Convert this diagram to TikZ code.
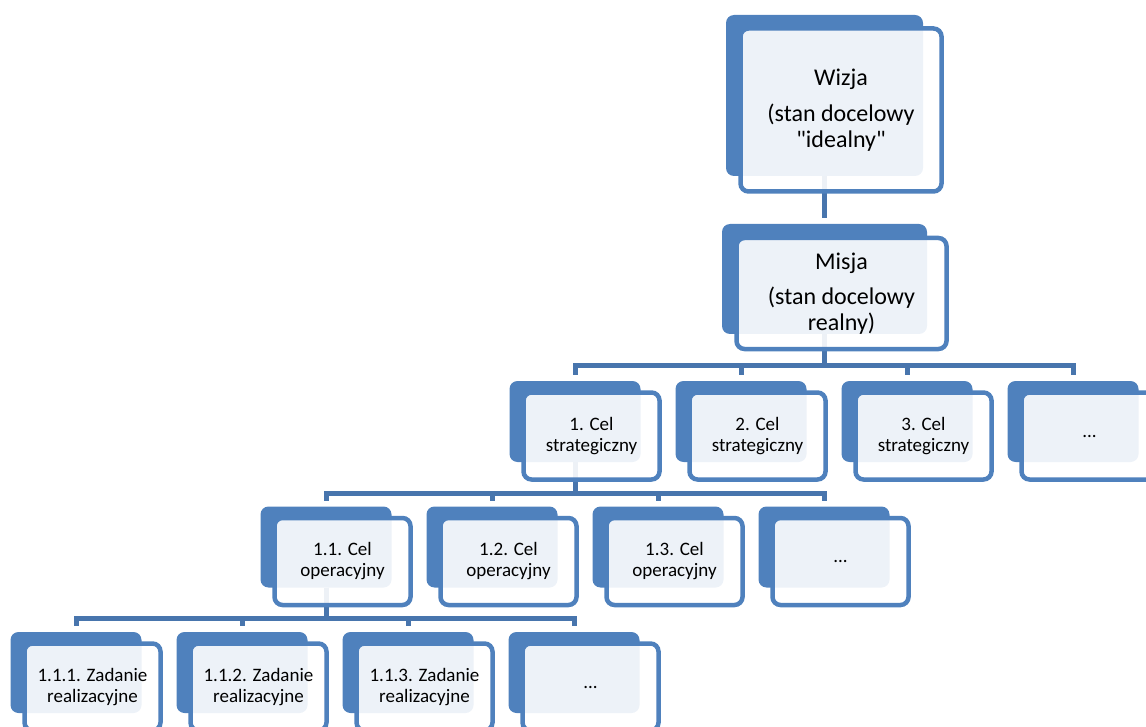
\documentclass[tikz,border=0pt]{standalone}
\usepackage{fontspec}
\setmainfont{Carlito}[Ligatures=TeXOff]
\usetikzlibrary{positioning}

\definecolor{cardblue}{RGB}{79,129,189}
\definecolor{linkblue}{RGB}{72,117,173}

\begin{document}
\begin{tikzpicture}[
    back/.style={rectangle, rounded corners=8pt, fill=cardblue, inner sep=0pt, outer sep=0pt, minimum width=131pt, minimum height=81pt},
    front/.style={rectangle, rounded corners=8pt, draw=cardblue, line width=4.5pt, fill=white, fill opacity=0.9, text opacity=1, align=center, inner sep=2pt, minimum width=136pt, minimum height=87pt, font=\fontsize{19}{21}\selectfont},
    bigfront/.style={front, font=\fontsize{24}{26}\selectfont},
    link/.style={draw=linkblue, line width=5pt, shorten >=6pt}
]
    \useasboundingbox (0,0) rectangle (1146pt,-727pt);

    % back cards
    \node[back, minimum width=197pt, minimum height=161pt] (wizja) at (824.5pt,-95.5pt) {};
    \node[back, minimum width=205pt, minimum height=110pt, below=48pt of wizja] (misja) {};
    \node[back, below=47pt of misja, xshift=-249.5pt] (cs1) {};
    \node[back, right=35pt of cs1] (cs2) {};
    \node[back, right=35pt of cs2] (cs3) {};
    \node[back, right=35pt of cs3] (cs4) {};
    \node[back, below=44.5pt of cs1, xshift=-249pt] (co1) {};
    \node[back, right=35pt of co1] (co2) {};
    \node[back, right=35pt of co2] (co3) {};
    \node[back, right=35pt of co3] (co4) {};
    \node[back, below=44.5pt of co1, xshift=-250pt] (zr1) {};
    \node[back, right=35pt of zr1] (zr2) {};
    \node[back, right=35pt of zr2] (zr3) {};
    \node[back, right=35pt of zr3] (zr4) {};

    % connectors
    \draw[link] (wizja.south) -- (misja.north);
    \foreach \c in {cs1,cs2,cs3,cs4}
        \draw[link] (misja.south) -- ++(0,-31pt) -| (\c.north);
    \foreach \c in {co1,co2,co3,co4}
        \draw[link] (cs1.south) -- ++(0,-31pt) -| (\c.north);
    \foreach \c in {zr1,zr2,zr3,zr4}
        \draw[link] (co1.south) -- ++(0,-31pt) -| (\c.north);

    % front cards
    \node[bigfront, minimum width=201pt, minimum height=163pt] (wizjaF) at ([shift={(16.5pt,-14.5pt)}]wizja.center)
        {Wizja\\[10pt](stan docelowy\\"idealny"};
    \node[bigfront, minimum width=210pt, minimum height=111pt] (misjaF) at ([shift={(17pt,-14.5pt)}]misja.center)
        {Misja\\[9pt](stan docelowy\\realny)};
    \node[front] (cs1F) at ([shift={(16.5pt,-14.5pt)}]cs1.center) {1. Cel\\strategiczny};
    \node[front] (cs2F) at ([shift={(16.5pt,-14.5pt)}]cs2.center) {2. Cel\\strategiczny};
    \node[front] (cs3F) at ([shift={(16.5pt,-14.5pt)}]cs3.center) {3. Cel\\strategiczny};
    \node[front] (cs4F) at ([shift={(16.5pt,-14.5pt)}]cs4.center) {...};
    \node[front] (co1F) at ([shift={(16.5pt,-14.5pt)}]co1.center) {1.1. Cel\\operacyjny};
    \node[front] (co2F) at ([shift={(16.5pt,-14.5pt)}]co2.center) {1.2. Cel\\operacyjny};
    \node[front] (co3F) at ([shift={(16.5pt,-14.5pt)}]co3.center) {1.3. Cel\\operacyjny};
    \node[front] (co4F) at ([shift={(16.5pt,-14.5pt)}]co4.center) {...};
    \node[front] (zr1F) at ([shift={(16.5pt,-14.5pt)}]zr1.center) {1.1.1. Zadanie\\realizacyjne};
    \node[front] (zr2F) at ([shift={(16.5pt,-14.5pt)}]zr2.center) {1.1.2. Zadanie\\realizacyjne};
    \node[front] (zr3F) at ([shift={(16.5pt,-14.5pt)}]zr3.center) {1.1.3. Zadanie\\realizacyjne};
    \node[front] (zr4F) at ([shift={(16.5pt,-14.5pt)}]zr4.center) {...};
\end{tikzpicture}
\end{document}
